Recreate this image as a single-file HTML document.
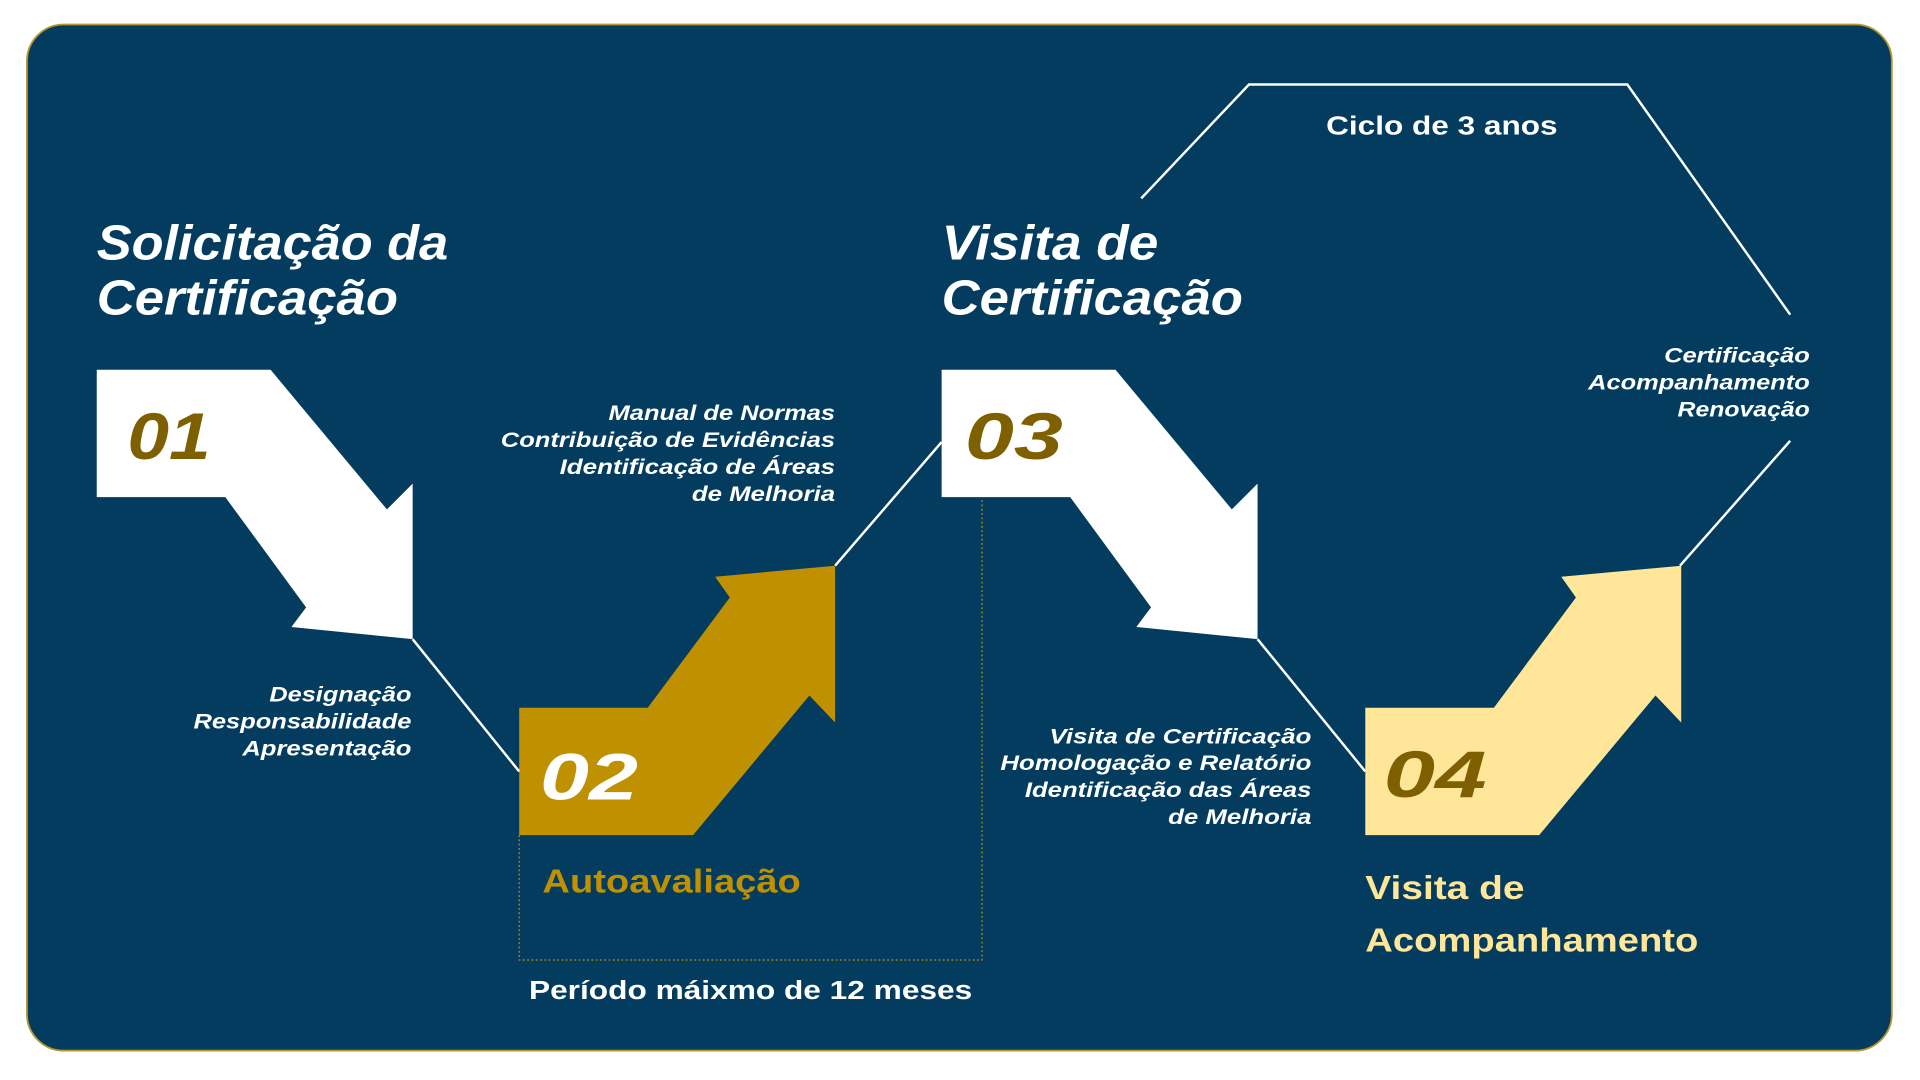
<!DOCTYPE html>
<html><head><meta charset="utf-8"><style>html,body{margin:0;padding:0;background:#fff}svg{display:block}</style></head>
<body>
<svg width="1920" height="1080" viewBox="0 0 1568 882" xmlns="http://www.w3.org/2000/svg" font-family="Liberation Sans, sans-serif">
<rect x="22" y="20" width="1523" height="838" rx="30" fill="#033c5e" stroke="#b8962e" stroke-width="1.5"/>
<g fill="#fff">
<polygon points="79,302 221,302 316,416 337,395 337,522 238,512 250,496 184,406 79,406"/>
<polygon transform="translate(690,0)" points="79,302 221,302 316,416 337,395 337,522 238,512 250,496 184,406 79,406"/>
</g>
<polygon fill="#bf9000" points="424,578 529,578 596,488 584,471 682,462 682,590 661,568 566,682 424,682"/>
<polygon fill="#ffe699" transform="translate(691,0)" points="424,578 529,578 596,488 584,471 682,462 682,590 661,568 566,682 424,682"/>
<g stroke="#fff" stroke-width="2" fill="none">
<line x1="337" y1="522" x2="424" y2="630"/>
<line x1="682" y1="462" x2="769" y2="361"/>
<line x1="1027" y1="522" x2="1115" y2="630"/>
<line x1="1372" y1="462" x2="1462" y2="360"/>
<polyline points="932,162 1020,69 1329,69 1462,257"/>
</g>
<g stroke="#bf9000" stroke-width="1" fill="none" stroke-dasharray="1.5,2">
<polyline points="424,682 424,784 802,784 802,407"/>
</g>
<g fill="#fff" font-weight="bold" font-style="italic" font-size="40">
<text x="79" y="212" textLength="287" lengthAdjust="spacingAndGlyphs">Solicitação da</text>
<text x="79" y="257" textLength="246" lengthAdjust="spacingAndGlyphs">Certificação</text>
<text x="769" y="212" textLength="177" lengthAdjust="spacingAndGlyphs">Visita de</text>
<text x="769" y="257" textLength="246" lengthAdjust="spacingAndGlyphs">Certificação</text>
</g>
<g font-weight="bold" font-style="italic" font-size="54">
<text x="104" y="375" fill="#7f6000" textLength="68" lengthAdjust="spacingAndGlyphs">01</text>
<text x="788" y="375" fill="#7f6000" textLength="80" lengthAdjust="spacingAndGlyphs">03</text>
<text x="441" y="653" fill="#fff" textLength="80" lengthAdjust="spacingAndGlyphs">02</text>
<text x="1130" y="651" fill="#7f6000" textLength="84" lengthAdjust="spacingAndGlyphs">04</text>
</g>
<g fill="#fff" font-weight="bold" font-style="italic" font-size="17">
<text x="497" y="343" textLength="185" lengthAdjust="spacingAndGlyphs">Manual de Normas</text>
<text x="409" y="365" textLength="273" lengthAdjust="spacingAndGlyphs">Contribuição de Evidências</text>
<text x="457" y="387" textLength="225" lengthAdjust="spacingAndGlyphs">Identificação de Áreas</text>
<text x="565" y="409" textLength="117" lengthAdjust="spacingAndGlyphs">de Melhoria</text>
<text x="220" y="573" textLength="116" lengthAdjust="spacingAndGlyphs">Designação</text>
<text x="158" y="595" textLength="178" lengthAdjust="spacingAndGlyphs">Responsabilidade</text>
<text x="198" y="617" textLength="138" lengthAdjust="spacingAndGlyphs">Apresentação</text>
<text x="857" y="607" textLength="214" lengthAdjust="spacingAndGlyphs">Visita de Certificação</text>
<text x="817" y="629" textLength="254" lengthAdjust="spacingAndGlyphs">Homologação e Relatório</text>
<text x="837" y="651" textLength="234" lengthAdjust="spacingAndGlyphs">Identificação das Áreas</text>
<text x="954" y="673" textLength="117" lengthAdjust="spacingAndGlyphs">de Melhoria</text>
<text x="1359" y="296" textLength="119" lengthAdjust="spacingAndGlyphs">Certificação</text>
<text x="1297" y="318" textLength="181" lengthAdjust="spacingAndGlyphs">Acompanhamento</text>
<text x="1370" y="340" textLength="108" lengthAdjust="spacingAndGlyphs">Renovação</text>
</g>
<g font-weight="bold">
<text x="1083" y="110" fill="#fff" font-size="21" textLength="189" lengthAdjust="spacingAndGlyphs">Ciclo de 3 anos</text>
<text x="432" y="816" fill="#fff" font-size="21" textLength="362" lengthAdjust="spacingAndGlyphs">Período máixmo de 12 meses</text>
<text x="443" y="729" fill="#bf9000" font-size="27" textLength="211" lengthAdjust="spacingAndGlyphs">Autoavaliação</text>
<text x="1115" y="734" fill="#ffe699" font-size="27" textLength="130" lengthAdjust="spacingAndGlyphs">Visita de</text>
<text x="1115" y="777" fill="#ffe699" font-size="27" textLength="272" lengthAdjust="spacingAndGlyphs">Acompanhamento</text>
</g>
</svg>
</body></html>
